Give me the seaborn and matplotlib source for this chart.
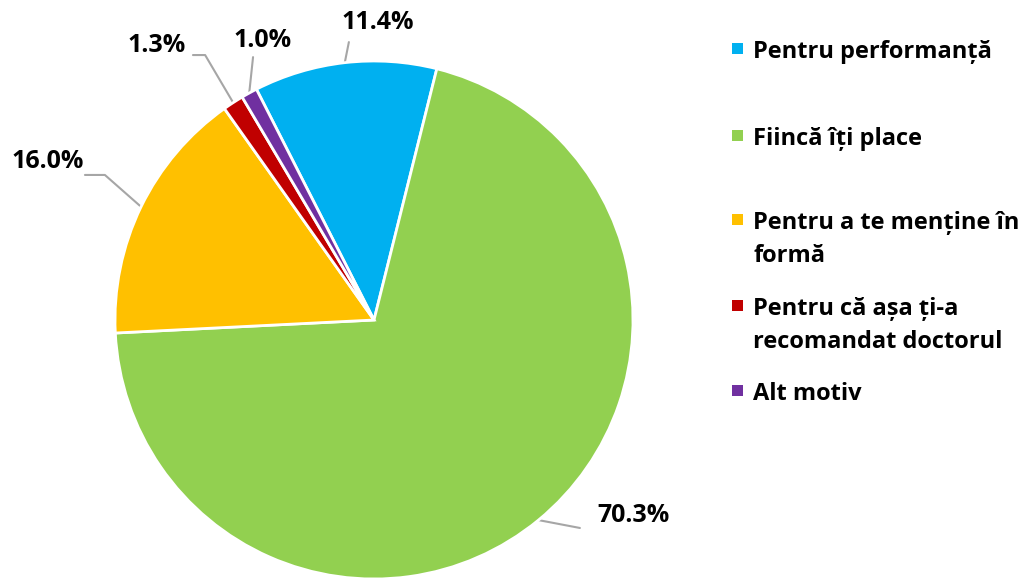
import matplotlib
matplotlib.use("Agg")
import matplotlib.pyplot as plt
import numpy as np
import seaborn as sns

# data
categories = [
    "Pentru performanță",
    "Fiincă îți place",
    "Pentru a te menține în\nformă",
    "Pentru că așa ți-a\nrecomandat doctorul",
    "Alt motiv",
]
shares = [11.4, 70.3, 16.0, 1.3, 1.0]
colors = ["#00B0F0", "#92D050", "#FFC000", "#C00000", "#7030A0"]

# label layout (data units, pie radius = 1): elbow point, line end, text position
elbows = [(-0.097, 1.073), (0.795, -0.803), (-1.039, 0.560), (-0.652, 1.023), (-0.467, 1.015)]
line_ends = [(-0.097, 1.073), (0.795, -0.803), (-1.116, 0.560), (-0.699, 1.023), (-0.467, 1.015)]
text_pos = [(0.015, 1.150), (1.0, -0.755), (-1.26, 0.612), (-0.84, 1.058), (-0.43, 1.078)]

# legend layout (pixels from top-left)
legend_baselines = [58, 145, 229, 315, 400]
line_gap = 33

sns.set_style("white")
plt.rcParams["font.family"] = ["Open Sans", "DejaVu Sans"]

W, H = 1028, 579
fig = plt.figure(figsize=(W / 100, H / 100), dpi=100)
cx, cy, r = 374, 320, 259
ax = fig.add_axes([(cx - r) / W, (H - cy - r) / H, 2 * r / W, 2 * r / H])

wedges, _ = ax.pie(
    shares,
    colors=colors,
    startangle=117,
    counterclock=False,
    radius=1,
    wedgeprops=dict(edgecolor="white", linewidth=2),
)
ax.set_xlim(-1, 1)
ax.set_ylim(-1, 1)
ax.set_aspect("auto")
ax.axis("off")

for w, val, elb, end, tp in zip(wedges, shares, elbows, line_ends, text_pos):
    mid = np.deg2rad((w.theta1 + w.theta2) / 2)
    x0, y0 = np.cos(mid), np.sin(mid)
    ax.plot([x0, elb[0], end[0]], [y0, elb[1], end[1]], color="#A6A6A6",
            linewidth=1.5, clip_on=False, zorder=0)
    ax.text(tp[0], tp[1], f"{val:.1f}%", ha="center", va="center",
            fontsize=18, fontweight="bold", color="black", clip_on=False)

# legend
sq = 11
for lab, col, base in zip(categories, colors, legend_baselines):
    fig.patches.append(plt.Rectangle(
        (732 / W, (H - base + 4) / H), sq / W, sq / H,
        transform=fig.transFigure, facecolor=col, edgecolor="none"))
    for k, line in enumerate(lab.split("\n")):
        fig.text(753 / W, (H - base - k * line_gap) / H, line, ha="left",
                 va="baseline", fontsize=17, fontweight="bold", color="black")

fig.savefig("out.png", dpi=100)
